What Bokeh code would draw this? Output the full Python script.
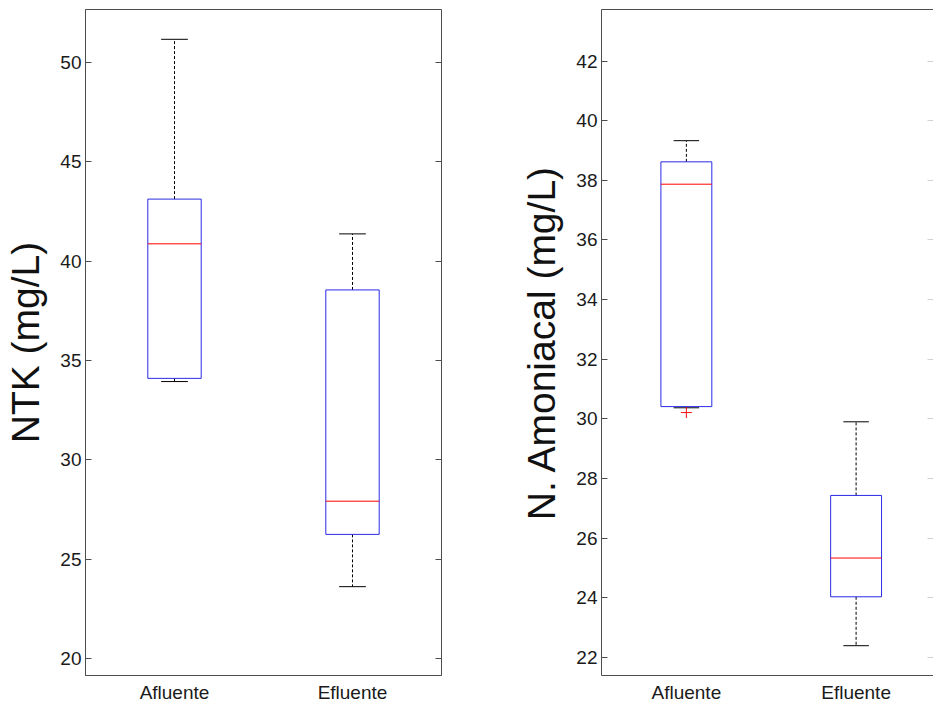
from bokeh.plotting import figure
from bokeh.layouts import row
from bokeh.models import LinearAxis, FixedTicker, Range1d
from bokeh.embed import file_html
from bokeh.resources import INLINE

categories = ["Afluente", "Efluente"]

# NTK (mg/L)
ntk_low = [33.94, 23.62]
ntk_q1 = [34.10, 26.25]
ntk_med = [40.87, 27.92]
ntk_q3 = [43.12, 38.55]
ntk_high = [51.16, 41.37]
ntk_out_cat = []
ntk_out_val = []
ntk_ticks = [20, 25, 30, 35, 40, 45, 50]

# N. Amoniacal (mg/L)
amon_low = [30.37, 22.39]
amon_q1 = [30.41, 24.03]
amon_med = [37.87, 25.33]
amon_q3 = [38.62, 27.43]
amon_high = [39.33, 29.90]
amon_out_cat = ["Afluente"]
amon_out_val = [30.21]
amon_ticks = [22, 24, 26, 28, 30, 32, 34, 36, 38, 40, 42]

FONT = "Liberation Sans"
SPINE = "#4d4d4d"
BOX_W = 0.30
CAP_W = 0.15


def boxfig(width, ylabel, low, q1, med, q3, high, out_cat, out_val,
           yr, yticks, xr, full_frame, border_right):
    p = figure(width=width, height=705, output_backend="svg", toolbar_location=None,
               x_range=Range1d(*xr), y_range=Range1d(*yr),
               min_border_left=85, min_border_right=border_right,
               min_border_top=9, min_border_bottom=29,
               x_axis_location=None, y_axis_location=None)
    p.grid.visible = False
    p.background_fill_color = "white"
    p.border_fill_color = "white"
    if full_frame:
        p.outline_line_color = SPINE
        p.outline_line_width = 1
    else:
        p.outline_line_color = None

    xs = [categories.index(c) + 1 for c in categories]
    # whiskers
    p.segment(x0=xs, y0=q3, x1=xs, y1=high, line_color="black", line_width=1, line_dash="3 2")
    p.segment(x0=xs, y0=q1, x1=xs, y1=low, line_color="black", line_width=1, line_dash="3 2")
    # caps
    p.segment(x0=[x - CAP_W / 2 for x in xs], y0=high, x1=[x + CAP_W / 2 for x in xs], y1=high,
              line_color="black", line_width=1)
    p.segment(x0=[x - CAP_W / 2 for x in xs], y0=low, x1=[x + CAP_W / 2 for x in xs], y1=low,
              line_color="black", line_width=1)
    # boxes
    p.vbar(x=xs, width=BOX_W, bottom=q1, top=q3, fill_color=None, line_color="#2a2ae8", line_width=1)
    # medians
    p.segment(x0=[x - BOX_W / 2 for x in xs], y0=med, x1=[x + BOX_W / 2 for x in xs], y1=med,
              line_color="#ff0000", line_width=1)
    if out_cat:
        ox = [categories.index(c) + 1 for c in out_cat]
        p.scatter(x=ox, y=out_val, marker="cross", size=11, line_color="#ee1111", line_width=1)

    yax = LinearAxis(ticker=FixedTicker(ticks=yticks), axis_label=ylabel)
    yax.axis_line_color = SPINE
    yax.major_tick_line_color = SPINE
    yax.major_tick_in = 6
    yax.major_tick_out = 0
    yax.minor_tick_line_color = None
    yax.major_label_standoff = 4
    yax.major_label_text_font = FONT
    yax.major_label_text_font_size = "19px"
    yax.major_label_text_color = "#1a1a1a"
    yax.axis_label_text_font = FONT
    yax.axis_label_text_font_size = "39px"
    yax.axis_label_text_font_style = "normal"
    yax.axis_label_text_color = "#111111"
    yax.axis_label_standoff = 10
    p.add_layout(yax, "left")

    xax = LinearAxis(ticker=FixedTicker(ticks=xs),
                     major_label_overrides={x: c for x, c in zip(xs, categories)})
    xax.axis_line_color = SPINE
    xax.major_tick_line_color = None
    xax.minor_tick_line_color = None
    xax.major_label_standoff = 0
    xax.major_label_text_font = FONT
    xax.major_label_text_font_size = "19px"
    xax.major_label_text_color = "#1a1a1a"
    p.add_layout(xax, "below")

    rax = LinearAxis(ticker=FixedTicker(ticks=yticks),
                     major_label_overrides={t: "" for t in yticks})
    rax.axis_line_color = None
    rax.major_tick_line_color = SPINE if full_frame else "#d0d0d0"
    rax.major_tick_in = 6
    rax.major_tick_out = 0
    rax.minor_tick_line_color = None
    rax.major_label_standoff = 0
    p.add_layout(rax, "right")

    if not full_frame:
        tax = LinearAxis(ticker=FixedTicker(ticks=[]))
        tax.axis_line_color = SPINE
        tax.major_tick_line_color = None
        tax.minor_tick_line_color = None
        tax.major_label_standoff = 0
        p.add_layout(tax, "above")
    return p


p1 = boxfig(516, "NTK (mg/L)", ntk_low, ntk_q1, ntk_med, ntk_q3, ntk_high,
            ntk_out_cat, ntk_out_val, (19.15, 52.66), ntk_ticks, (0.5, 2.5), True, 75)
p2 = boxfig(417, "N. Amoniacal (mg/L)", amon_low, amon_q1, amon_med, amon_q3, amon_high,
            amon_out_cat, amon_out_val, (21.39, 43.73), amon_ticks, (0.5, 2.456), False, 0)

layout = row(p1, p2, spacing=0)
open("out.html", "w").write(file_html(layout, INLINE))
